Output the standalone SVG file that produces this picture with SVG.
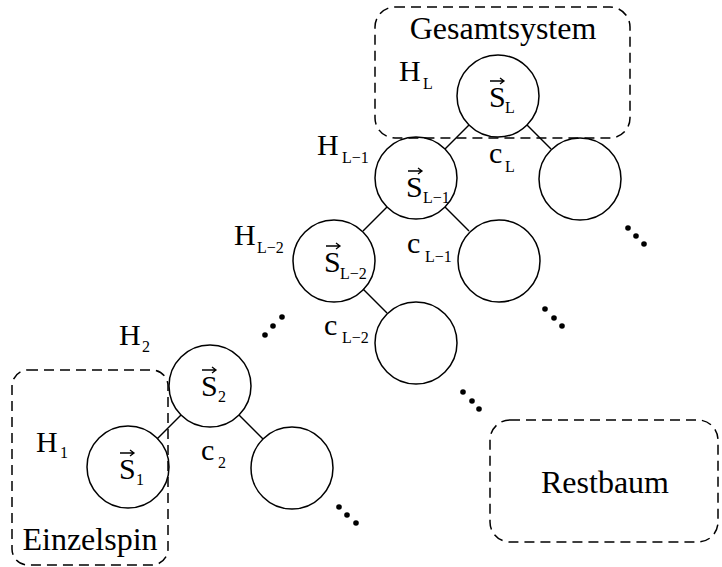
<svg xmlns="http://www.w3.org/2000/svg" width="722" height="567" viewBox="0 0 722 567">
<style>
.node{fill:none;stroke:#000;stroke-width:1.5}
.edge{stroke:#000;stroke-width:1.5;fill:none}
.box{fill:none;stroke:#000;stroke-width:1.5;stroke-dasharray:10 6}
.t{font-family:"Liberation Serif","Times New Roman",serif;fill:#000}
.big{font-size:30px}
.lbl{font-size:32px}
.sub{font-size:16px}
.vec{stroke:#000;stroke-width:1.3;fill:none}
.dot{fill:#000}
</style>
<defs>
<path id="arrow" class="vec" d="M0,0 H14 M10,-3 L14,0 L10,3"/>
</defs>
<rect width="722" height="567" fill="#fff"/>

<g id="connectors">
<line class="edge" x1="469" y1="125" x2="445" y2="149"/>
<line class="edge" x1="527" y1="125" x2="551" y2="149"/>
<line class="edge" x1="387" y1="207" x2="363" y2="231"/>
<line class="edge" x1="445" y1="207" x2="469" y2="231"/>
<line class="edge" x1="363" y1="289" x2="387" y2="313"/>
<line class="edge" x1="181" y1="415" x2="157" y2="439"/>
<line class="edge" x1="239" y1="415" x2="263" y2="439"/>
</g>

<g id="node-SL">
<circle class="node" cx="498" cy="96" r="41"/>
<use href="#arrow" x="490" y="81"/>
<text class="t big" x="489" y="107">S</text>
<text class="t sub" x="505" y="113">L</text>
</g>
<g id="node-RL">
<circle class="node" cx="580" cy="179" r="41"/>
</g>
<g id="node-SL1">
<circle class="node" cx="416" cy="178" r="41"/>
<use href="#arrow" x="408" y="171"/>
<text class="t big" x="406" y="197">S</text>
<text class="t sub" x="423" y="203">L−1</text>
</g>
<g id="node-RL1">
<circle class="node" cx="499" cy="261" r="41"/>
</g>
<g id="node-SL2">
<circle class="node" cx="334" cy="261" r="41"/>
<use href="#arrow" x="326" y="246"/>
<text class="t big" x="324" y="272">S</text>
<text class="t sub" x="340" y="279">L−2</text>
</g>
<g id="node-RL2">
<circle class="node" cx="416" cy="343" r="41"/>
</g>
<g id="node-S2">
<circle class="node" cx="210" cy="386" r="41"/>
<use href="#arrow" x="202" y="370"/>
<text class="t big" x="201" y="396">S</text>
<text class="t sub" x="218" y="402">2</text>
</g>
<g id="node-R2">
<circle class="node" cx="292" cy="468" r="41"/>
</g>
<g id="node-S1">
<circle class="node" cx="128" cy="467" r="41"/>
<use href="#arrow" x="120" y="453"/>
<text class="t big" x="119" y="479">S</text>
<text class="t sub" x="136" y="485">1</text>
</g>

<g id="box-gesamtsystem">
<rect class="box" x="375" y="7" width="255" height="131" rx="20" ry="20"/>
<text class="t lbl" x="503" y="39" text-anchor="middle">Gesamtsystem</text>
</g>
<g id="box-einzelspin">
<rect class="box" x="12" y="370" width="156" height="195" rx="16" ry="16"/>
<text class="t lbl" x="90" y="550" text-anchor="middle">Einzelspin</text>
</g>
<g id="box-restbaum">
<rect class="box" x="490" y="420" width="228" height="122" rx="20" ry="20"/>
<text class="t lbl" x="605" y="493" text-anchor="middle">Restbaum</text>
</g>

<g id="labels">
<text class="t big" x="399" y="81">H</text><text class="t sub" x="423" y="89">L</text>
<text class="t big" x="317" y="155">H</text><text class="t sub" x="342" y="163">L−1</text>
<text class="t big" x="234" y="245">H</text><text class="t sub" x="257" y="253">L−2</text>
<text class="t big" x="119" y="345">H</text><text class="t sub" x="142" y="352">2</text>
<text class="t big" x="36" y="452">H</text><text class="t sub" x="60" y="458">1</text>
<text class="t big" x="489" y="163">c</text><text class="t sub" x="505" y="172">L</text>
<text class="t big" x="407" y="253">c</text><text class="t sub" x="425" y="262">L−1</text>
<text class="t big" x="324" y="335">c</text><text class="t sub" x="342" y="343">L−2</text>
<text class="t big" x="201" y="460">c</text><text class="t sub" x="218" y="468">2</text>
</g>

<g id="ellipses">
<circle class="dot" cx="265" cy="335" r="2.8"/><circle class="dot" cx="273" cy="326" r="2.8"/><circle class="dot" cx="282" cy="317" r="2.8"/>
<circle class="dot" cx="628" cy="228" r="2.8"/><circle class="dot" cx="636" cy="236" r="2.8"/><circle class="dot" cx="644" cy="244" r="2.8"/>
<circle class="dot" cx="545" cy="309" r="2.8"/><circle class="dot" cx="554" cy="318" r="2.8"/><circle class="dot" cx="562" cy="326" r="2.8"/>
<circle class="dot" cx="463" cy="392" r="2.8"/><circle class="dot" cx="472" cy="401" r="2.8"/><circle class="dot" cx="479" cy="409" r="2.8"/>
<circle class="dot" cx="339" cy="507" r="2.8"/><circle class="dot" cx="347" cy="515" r="2.8"/><circle class="dot" cx="356" cy="523" r="2.8"/>
</g>
</svg>
